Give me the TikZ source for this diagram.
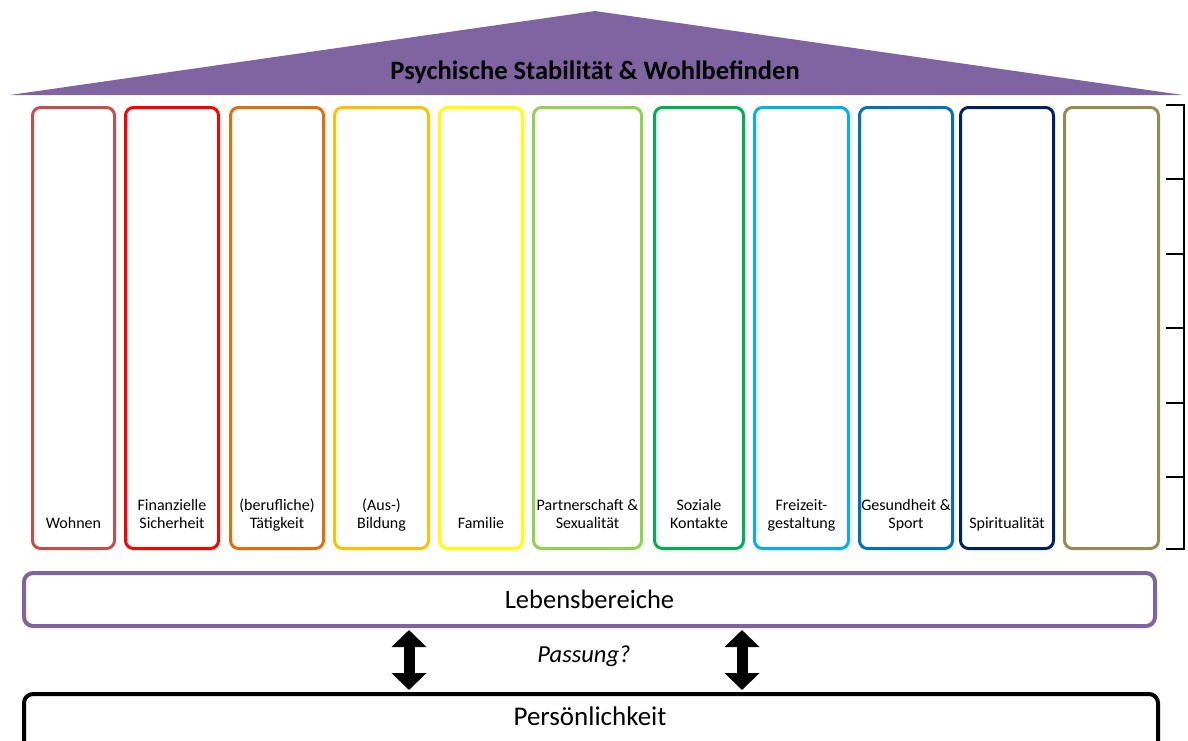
\documentclass[tikz,border=0pt]{standalone}
\usepackage{fontspec}
\setmainfont{Carlito}
\usetikzlibrary{arrows.meta,positioning}
\definecolor{roofpurple}{HTML}{8064A2}
\definecolor{cWohnen}{HTML}{C0504D}
\definecolor{cFinanz}{HTML}{FF0000}
\definecolor{cTaetig}{HTML}{E46C0A}
\definecolor{cBildung}{HTML}{FFC000}
\definecolor{cFamilie}{HTML}{FFFF00}
\definecolor{cPartner}{HTML}{92D050}
\definecolor{cSozial}{HTML}{00B050}
\definecolor{cFreizeit}{HTML}{00B0F0}
\definecolor{cGesund}{HTML}{0070C0}
\definecolor{cSpirit}{HTML}{002060}
\definecolor{cLeer}{HTML}{948A54}
\tikzset{
	colbox/.style={line width=3pt,rounded corners=8pt,minimum height=441pt,inner sep=0pt,outer sep=0pt},
	collabel/.style={font=\fontsize{16}{18}\selectfont,align=center,inner sep=0pt,text depth=0pt,anchor=south},
	bigbox/.style={line width=4pt,rounded corners=9pt,inner sep=0pt,outer sep=0pt,font=\fontsize{26.5}{30}\selectfont},
	fatarrow/.style={line width=11pt,{Triangle[width=34pt,length=17pt]}-{Triangle[width=34pt,length=17pt]},shorten <=4pt,shorten >=4pt},
	ticks/.style={line width=1.6pt}
}
\begin{document}
\begin{tikzpicture}[x=1pt,y=-1pt]
  \useasboundingbox (0,0) rectangle (1188,740);
  % Dach
  \coordinate (roofL) at (10,95);
  \coordinate (roofT) at (595,11);
  \coordinate (roofR) at (1183,95);
  \fill[roofpurple] (roofL) -- (roofT) -- (roofR) -- cycle;
  \node[font=\bfseries\fontsize{26.5}{30}\selectfont] (title) at (595,72) {Psychische Stabilität \& Wohlbefinden};
  % Saeulen
  \foreach \name/\xa/\xb/\col/\txt in {
      wohnen/31/116/cWohnen/{Wohnen},
      finanz/124/220/cFinanz/{Finanzielle\\Sicherheit},
      taetig/229/325/cTaetig/{(berufliche)\\Tätigkeit},
      bildung/333/430/cBildung/{(Aus-)\\Bildung},
      familie/438/524/cFamilie/{Familie},
      partner/532/643/cPartner/{Partnerschaft \&\\Sexualität},
      sozial/653/745/cSozial/{Soziale\\Kontakte},
      freizeit/753/850/cFreizeit/{Freizeit-\\gestaltung},
      gesund/858/954/cGesund/{Gesundheit \&\\Sport},
      spirit/959/1055/cSpirit/{Spiritualität},
      leer/1063/1160/cLeer/{}} {
    \pgfmathsetmacro{\w}{\xb-\xa-3}
    \node[colbox,draw=\col,minimum width=\w pt] (\name) at ({(\xa+\xb)/2},328) {};
    \node[collabel,above=20pt of \name.south] (\name-lbl) {\txt};
  }
  % Skala
  \draw[ticks] (1184,105) -- (1184,549);
  \foreach \y in {105,179,254,328,403,477,549}
    \draw[ticks] (1166,\y) -- (1185,\y);
  % Lebensbereiche / Persoenlichkeit
  \node[bigbox,draw=roofpurple,minimum width=1131pt,minimum height=53pt] (leb) at (589.5,599.5) {Lebensbereiche};
  \node[bigbox,draw=black,minimum width=1134pt,minimum height=70pt] (pers) at (591,729) {};
  \node[font=\fontsize{27}{30}\selectfont] (perstxt) at (590,716) {Persönlichkeit};
  \node[font=\itshape\fontsize{24.5}{28}\selectfont] (passung) at (584,656) {Passung?};
  \coordinate (arrL) at (409,0);
  \coordinate (arrR) at (742,0);
  \draw[fatarrow] (leb.south -| arrL) -- (pers.north -| arrL);
  \draw[fatarrow] (leb.south -| arrR) -- (pers.north -| arrR);
\end{tikzpicture}
\end{document}
